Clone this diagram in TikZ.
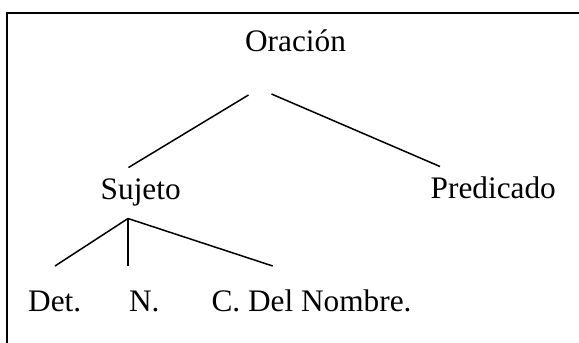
\documentclass[tikz,border=0pt]{standalone}
\usepackage{fontspec}
\setmainfont{Liberation Serif}
\begin{document}
\begin{tikzpicture}[x=1pt,y=-1pt,
  lbl/.style={inner sep=0pt,outer sep=0pt,anchor=base,font=\fontsize{31.3}{36}\selectfont},
  branch/.style={line width=1.5pt},
  frame/.style={line width=2pt}]
\useasboundingbox (0,0) rectangle (579,343);
% frame (open at right and bottom)
\coordinate (fb) at (7.3,343);
\coordinate (ftl) at (7.3,12.7);
\coordinate (ftr) at (579,12.7);
\draw[frame] (fb) -- (ftl) -- (ftr);
% labels
\node[lbl] (ora) at (295.5,51.7) {Oración};
\node[lbl] (suj) at (140.7,199) {Sujeto};
\node[lbl] (pred) at (493.3,198.5) {Predicado};
\node[lbl] (det) at (54.7,311) {Det.};
\node[lbl] (n) at (144.3,311) {N.};
\node[lbl] (cdn) at (311.5,311) {C. Del Nombre.};
% branch ends
\coordinate (oraL) at (248.5,95);
\coordinate (oraR) at (271.5,94);
\coordinate (sujT) at (128.5,167.5);
\coordinate (predT) at (440,166.5);
\coordinate (sujB) at (128,218.5);
\coordinate (detT) at (55,266);
\coordinate (nT) at (128,266);
\coordinate (cdnT) at (272.7,266);
\draw[branch] (oraL) -- (sujT);
\draw[branch] (oraR) -- (predT);
\draw[branch] (sujB) -- (detT);
\draw[branch] (sujB) -- (nT);
\draw[branch] (sujB) -- (cdnT);
\end{tikzpicture}
\end{document}
